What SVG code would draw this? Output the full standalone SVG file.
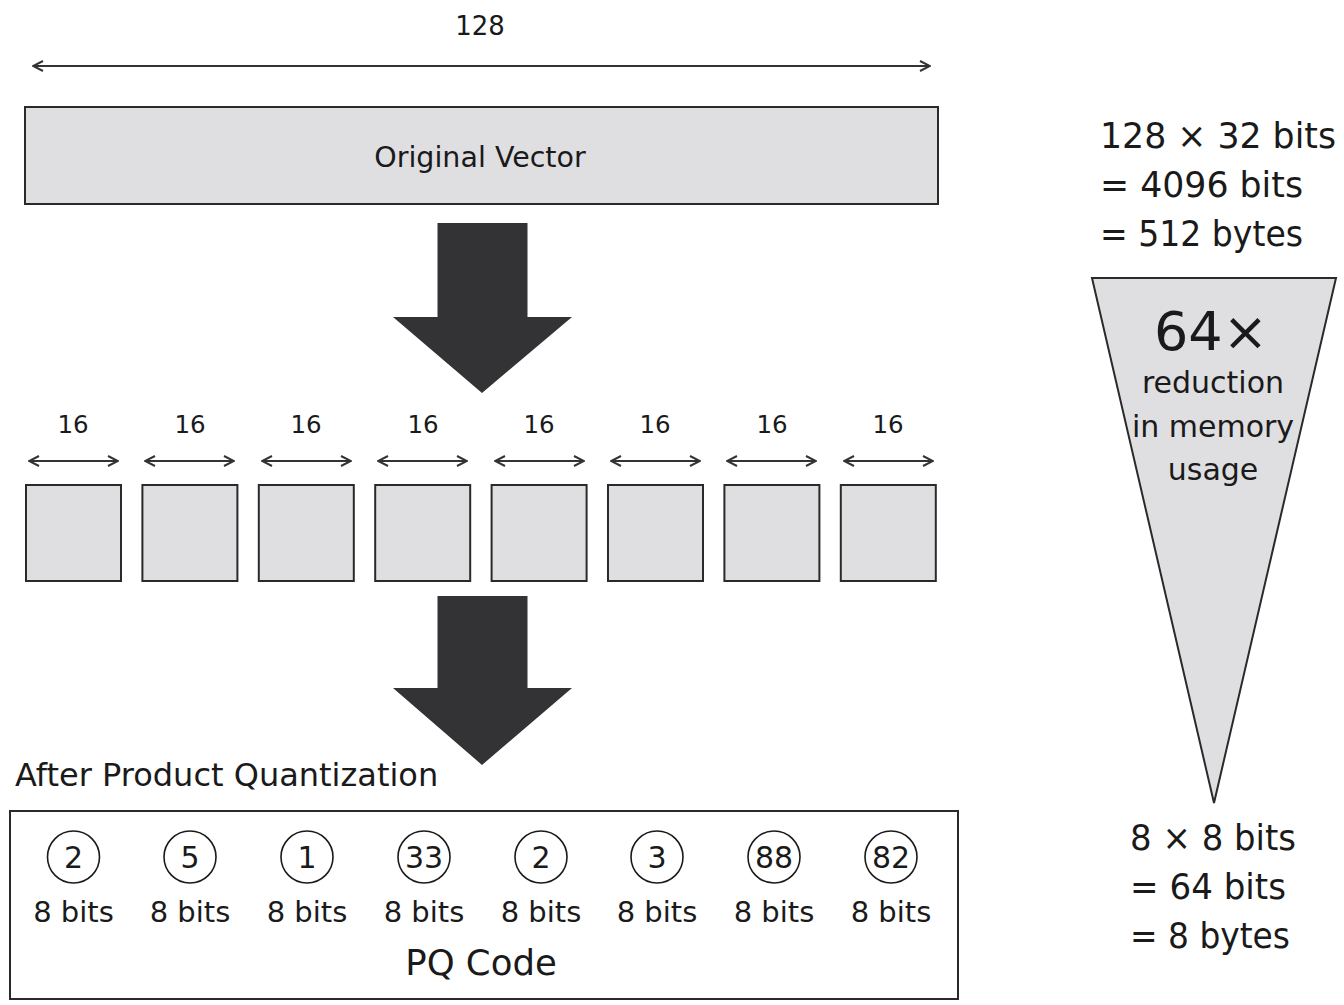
<svg xmlns="http://www.w3.org/2000/svg" width="1344" height="1005" viewBox="0 0 1344 1005">
<defs>
<style>
.t{font-family:"DejaVu Sans","Liberation Sans",sans-serif;fill:#1a1a1a}
.box{fill:#dfdfe1;stroke:#2a2a2a;stroke-width:2}
.big{fill:#333335}
.dim{stroke:#333;stroke-width:2;fill:none}
.circ{fill:#fff;stroke:#1a1a1a;stroke-width:1.6}
</style>
<marker id="ah" viewBox="0 0 12 12" refX="11" refY="6" markerWidth="12" markerHeight="12" markerUnits="userSpaceOnUse" orient="auto-start-reverse">
<polyline points="1,1 11,6 1,11" fill="none" stroke="#333" stroke-width="2"/>
</marker>
</defs>
<g id="connectors">
<line class="dim" x1="33" y1="66" x2="930" y2="66" marker-start="url(#ah)" marker-end="url(#ah)"/>
<line class="dim" x1="29" y1="461" x2="118" y2="461" marker-start="url(#ah)" marker-end="url(#ah)"/>
<line class="dim" x1="145" y1="461" x2="234" y2="461" marker-start="url(#ah)" marker-end="url(#ah)"/>
<line class="dim" x1="262" y1="461" x2="351" y2="461" marker-start="url(#ah)" marker-end="url(#ah)"/>
<line class="dim" x1="378" y1="461" x2="467" y2="461" marker-start="url(#ah)" marker-end="url(#ah)"/>
<line class="dim" x1="495" y1="461" x2="584" y2="461" marker-start="url(#ah)" marker-end="url(#ah)"/>
<line class="dim" x1="611" y1="461" x2="700" y2="461" marker-start="url(#ah)" marker-end="url(#ah)"/>
<line class="dim" x1="727" y1="461" x2="816" y2="461" marker-start="url(#ah)" marker-end="url(#ah)"/>
<line class="dim" x1="844" y1="461" x2="933" y2="461" marker-start="url(#ah)" marker-end="url(#ah)"/>
<polygon class="big" points="437.5,223 527.5,223 527.5,317 572,317 482,393 393,317 437.5,317"/>
<polygon class="big" points="437.5,596 527.5,596 527.5,688 572,688 482,765 393,688 437.5,688"/>
</g>
<text class="t" x="480" y="35" font-size="26" text-anchor="middle">128</text>
<g id="original-vector">
<rect class="box" x="25" y="107" width="913" height="97"/>
<text class="t" x="480" y="167" font-size="28.5" text-anchor="middle">Original Vector</text>
</g>
<g id="subvectors" font-size="24.5">
<g id="sub1"><text class="t" x="73" y="433" text-anchor="middle">16</text><rect class="box" x="26" y="485" width="95" height="96"/></g>
<g id="sub2"><text class="t" x="190" y="433" text-anchor="middle">16</text><rect class="box" x="142.4" y="485" width="95" height="96"/></g>
<g id="sub3"><text class="t" x="306" y="433" text-anchor="middle">16</text><rect class="box" x="258.8" y="485" width="95" height="96"/></g>
<g id="sub4"><text class="t" x="423" y="433" text-anchor="middle">16</text><rect class="box" x="375.2" y="485" width="95" height="96"/></g>
<g id="sub5"><text class="t" x="539" y="433" text-anchor="middle">16</text><rect class="box" x="491.6" y="485" width="95" height="96"/></g>
<g id="sub6"><text class="t" x="655" y="433" text-anchor="middle">16</text><rect class="box" x="608" y="485" width="95" height="96"/></g>
<g id="sub7"><text class="t" x="772" y="433" text-anchor="middle">16</text><rect class="box" x="724.4" y="485" width="95" height="96"/></g>
<g id="sub8"><text class="t" x="888" y="433" text-anchor="middle">16</text><rect class="box" x="840.8" y="485" width="95" height="96"/></g>
</g>
<text class="t" x="15" y="786" font-size="32">After Product Quantization</text>
<g id="pq-code">
<rect x="10" y="811" width="948" height="188" fill="#fff" stroke="#2a2a2a" stroke-width="2"/>
<g font-size="30" text-anchor="middle">
<circle class="circ" cx="73.5" cy="857" r="26"/><text class="t" x="73.5" y="868">2</text><text class="t" x="73.5" y="922" font-size="29">8 bits</text>
<circle class="circ" cx="190" cy="857" r="26"/><text class="t" x="190" y="868">5</text><text class="t" x="190" y="922" font-size="29">8 bits</text>
<circle class="circ" cx="307" cy="857" r="26"/><text class="t" x="307" y="868">1</text><text class="t" x="307" y="922" font-size="29">8 bits</text>
<circle class="circ" cx="424" cy="857" r="26"/><text class="t" x="424" y="868">33</text><text class="t" x="424" y="922" font-size="29">8 bits</text>
<circle class="circ" cx="541" cy="857" r="26"/><text class="t" x="541" y="868">2</text><text class="t" x="541" y="922" font-size="29">8 bits</text>
<circle class="circ" cx="657" cy="857" r="26"/><text class="t" x="657" y="868">3</text><text class="t" x="657" y="922" font-size="29">8 bits</text>
<circle class="circ" cx="774" cy="857" r="26"/><text class="t" x="774" y="868">88</text><text class="t" x="774" y="922" font-size="29">8 bits</text>
<circle class="circ" cx="891" cy="857" r="26"/><text class="t" x="891" y="868">82</text><text class="t" x="891" y="922" font-size="29">8 bits</text>
</g>
<text class="t" x="481" y="975" font-size="35.5" text-anchor="middle">PQ Code</text>
</g>
<g id="memory-before" font-size="35">
<text class="t" x="1100" y="148" textLength="236" lengthAdjust="spacingAndGlyphs">128 × 32 bits</text>
<text class="t" x="1100" y="197" textLength="203" lengthAdjust="spacingAndGlyphs">= 4096 bits</text>
<text class="t" x="1100" y="246" textLength="203" lengthAdjust="spacingAndGlyphs">= 512 bytes</text>
</g>
<g id="reduction">
<polygon points="1092,278 1336,278 1214,803" fill="#dfdfe1" stroke="#2a2a2a" stroke-width="2" stroke-linejoin="miter"/>
<text class="t" x="1211" y="350" font-size="54" text-anchor="middle">64×</text>
<g font-size="30" text-anchor="middle">
<text class="t" x="1213" y="393">reduction</text>
<text class="t" x="1213" y="437">in memory</text>
<text class="t" x="1213" y="480">usage</text>
</g>
</g>
<g id="memory-after" font-size="35">
<text class="t" x="1130" y="850" textLength="166" lengthAdjust="spacingAndGlyphs">8 × 8 bits</text>
<text class="t" x="1130" y="899" textLength="156" lengthAdjust="spacingAndGlyphs">= 64 bits</text>
<text class="t" x="1130" y="948" textLength="160" lengthAdjust="spacingAndGlyphs">= 8 bytes</text>
</g>
</svg>
